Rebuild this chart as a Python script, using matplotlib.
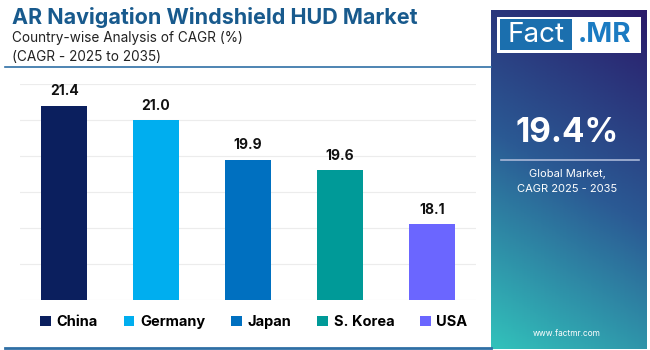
import numpy as np
import matplotlib.pyplot as plt
from matplotlib.colors import LinearSegmentedColormap
from matplotlib.patches import Rectangle
from matplotlib.lines import Line2D

plt.rcParams['font.family'] = ['Inter', 'DejaVu Sans']

# data
countries = ["China", "Germany", "Japan", "S. Korea", "USA"]
cagr = [21.4, 21.0, 19.9, 19.6, 18.1]
bar_colors = ["#0b1f5e", "#00aeef", "#0070c0", "#009a98", "#6b66ff"]
global_cagr = "19.4%"

fig = plt.figure(figsize=(6.5, 3.5), dpi=100)

# title block
fig.text(12/650, 1 - 17/350, "AR Navigation Windshield HUD Market", fontsize=15.5,
         fontweight="bold", color="#185a8d", va="center", ha="left")
fig.text(12/650, 1 - 38/350, "Country-wise Analysis of CAGR (%)", fontsize=9.8,
         color="#222222", va="center", ha="left")
fig.text(12/650, 1 - 57/350, "(CAGR - 2025 to 2035)", fontsize=9.8,
         color="#222222", va="center", ha="left")
fig.add_artist(Line2D([5/650, 491/650], [1 - 67/350, 1 - 67/350], color="#2f6fa5", lw=1.2))
fig.add_artist(Line2D([5/650, 491/650], [1 - 348/350, 1 - 348/350], color="#2f6fa5", lw=2))

# bars
ax = fig.add_axes([20/650, 50/350, 456/650, 216/350])
x = np.arange(len(countries))
for i in range(len(countries)):
    ax.bar(x[i], cagr[i], width=0.5, color=bar_colors[i], label=countries[i], zorder=3)
    ax.text(x[i], cagr[i] + 0.2, f"{cagr[i]:.1f}", ha="center", va="bottom",
            fontsize=10, fontweight="bold", color="#111111")
ax.set_ylim(16, 22)
ax.set_xlim(-0.48, 4.48)
ax.set_yticks(np.arange(16, 23, 1))
ax.yaxis.grid(True, color="#ececec", lw=0.8, zorder=0)
ax.tick_params(left=False, bottom=False, labelleft=False, labelbottom=False)
for s in ax.spines.values():
    s.set_visible(False)

handles, labels = ax.get_legend_handles_labels()
leg = fig.legend(handles, labels, loc="center", bbox_to_anchor=(254/650, 1 - 322/350),
                 ncol=5, frameon=False, handlelength=0.7, handleheight=0.7,
                 handletextpad=0.4, columnspacing=1.8,
                 prop={"size": 10.5, "weight": "bold"})

# right panel with gradient
pax = fig.add_axes([491/650, 1/350, 156/650, 339/350])
ny, nx = 200, 100
yy, xx = np.mgrid[0:1:ny * 1j, 0:1:nx * 1j]
s = 0.78 * yy + 0.22 * (1 - xx)
cmap = LinearSegmentedColormap.from_list("panel", [(0, "#2a1b6a"), (0.5, "#2b5a94"), (1, "#32c2bb")])
pax.imshow(s, cmap=cmap, aspect="auto", extent=(0, 1, 1, 0), vmin=0, vmax=1)
pax.set_xlim(0, 1)
pax.set_ylim(1, 0)
pax.axis("off")

# logo
fig.patches.append(Rectangle((497/650, 1 - 53/350), 144/650, 36/350, transform=fig.transFigure,
                             facecolor="white", edgecolor="none", zorder=5))
fig.patches.append(Rectangle((500/650, 1 - 50/350), 72/650, 31/350, transform=fig.transFigure,
                             facecolor="#1b6fae", edgecolor="none", zorder=6))
fig.text(536/650, 1 - 35/350, "Fact", fontsize=20, color="white", ha="center", va="center", zorder=7)
fig.text(605/650, 1 - 35/350, ".MR", fontsize=20, color="#1b7bc2", fontweight="bold",
         ha="center", va="center", zorder=7)

fig.text(567/650, 1 - 133/350, global_cagr, fontsize=24, fontweight="bold", color="white",
         ha="center", va="center")
fig.add_artist(Line2D([501/650, 639/650], [1 - 160/350, 1 - 160/350], color="#aab8d8", lw=1.2))
fig.text(567/650, 1 - 174/350, "Global Market,", fontsize=8, color="white", ha="center", va="center")
fig.text(567/650, 1 - 189/350, "CAGR 2025 - 2035", fontsize=8, color="white", ha="center", va="center")
fig.text(567/650, 1 - 333/350, "www.factmr.com", fontsize=6, color="white", ha="center", va="center")

fig.savefig("out.png", dpi=100)
